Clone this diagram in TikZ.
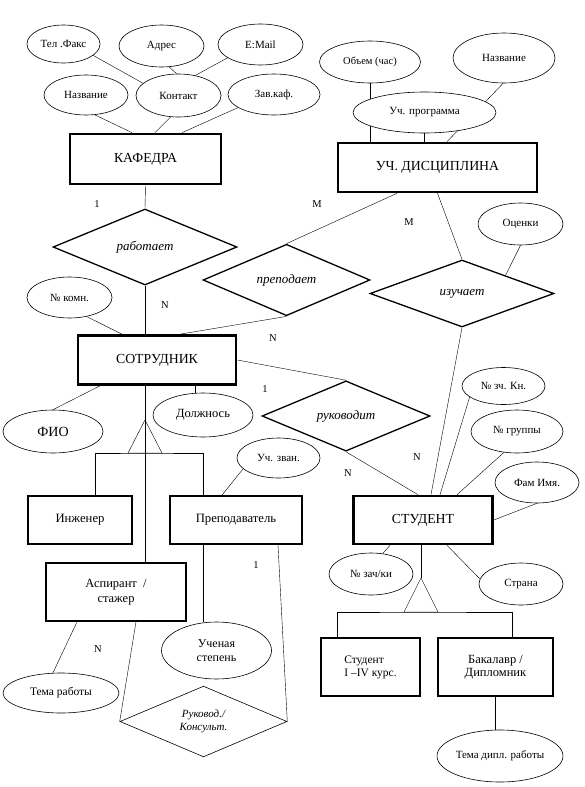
\documentclass[tikz,border=0pt]{standalone}
\usepackage{fontspec}
\setmainfont{Liberation Serif}
\usetikzlibrary{calc,shapes.geometric,backgrounds}

\begin{document}
\begin{tikzpicture}[x=1pt,y=-1pt,
  sz/.style 2 args={minimum width=#1,minimum height=#2},
  ent/.style={draw,line width=2.6pt,inner sep=0pt,fill=white,font=\fontsize{13.8}{15}\selectfont},
  sub/.style={draw,line width=1.8pt,inner sep=0pt,fill=white,align=center,font=\fontsize{12.7}{14}\selectfont},
  attr/.style={ellipse,draw,line width=0.6pt,inner sep=0pt,fill=white,align=center,font=\fontsize{11}{13}\selectfont},
  rel/.style={diamond,draw,line width=1.3pt,inner sep=0pt,fill=white,align=center,font=\fontsize{13}{15}\selectfont\itshape},
  link/.style={line width=0.6pt}]
\useasboundingbox (0,0) rectangle (584,787);
% entities
\node[ent,sz={151}{50}] (kaf) at (145.5,159) {КАФЕДРА};
\node[ent,sz={199}{49}] (disc) at (437.5,167.5) {УЧ. ДИСЦИПЛИНА};
\node[ent,sz={158}{49}] (sotr) at (157,360) {СОТРУДНИК};
\node[ent,sz={139}{48}] (stud) at (423,520) {СТУДЕНТ};
\node[sub,sz={104}{48}] (ing) at (80,520) {Инженер};
\node[sub,sz={132}{48}] (pr) at (236,520) {Преподаватель};
\node[sub,sz={140}{58},font=\fontsize{12.5}{15}\selectfont] (asp) at (116,592) {Аспирант~~/\\стажер};
\node[sub,sz={99}{58},align=left,font=\fontsize{11.5}{13}\selectfont] (st1) at (370.5,667) {Студент\\I –IV курс.};
\node[sub,sz={115}{58},font=\fontsize{12.5}{13.5}\selectfont] (bak) at (495.5,667) {Бакалавр /\\Дипломник};
% attributes
\node[attr,sz={73}{38}] (tel) at (63.5,44) {Тел .Факс};
\node[attr,sz={85}{42}] (adr) at (161.5,46) {Адрес};
\node[attr,sz={85}{41}] (mail) at (260.5,44.5) {E:Mail};
\node[attr,sz={84}{40}] (nazv) at (86,95) {Название};
\node[attr,sz={85}{43}] (kont) at (178.5,95.5) {Контакт};
\node[attr,sz={92}{41}] (zav) at (274,94.5) {Зав.каф.};
\node[attr,sz={101}{42},font=\fontsize{10.5}{12}\selectfont] (obj) at (370,62) {Объем (час)};
\node[attr,sz={102}{50}] (nazv2) at (504,58) {Название};
\node[attr,sz={143}{41}] (prog) at (424.5,112.5) {Уч. программа};
\node[attr,sz={85}{42}] (ocen) at (520.5,224) {Оценки};
\node[attr,sz={85}{41}] (komn) at (69.5,297.5) {№ комн.};
\node[attr,sz={100}{44},font=\fontsize{12.5}{14}\selectfont] (dol) at (203,415) {Должнось};
\node[attr,sz={100}{43},font=\fontsize{14}{16}\selectfont] (fio) at (53,431.5) {ФИО};
\node[attr,sz={83}{40}] (zv) at (278.5,458) {Уч. зван.};
\node[attr,sz={83}{37}] (zk) at (503.5,386) {№ зч. Кн.};
\node[attr,sz={92}{43}] (grp) at (517,431.5) {№ группы};
\node[attr,sz={84}{41}] (fam) at (537,482.5) {Фам Имя.};
\node[attr,sz={84}{42}] (zki) at (371,574) {№ зач/ки};
\node[attr,sz={84}{42}] (str) at (521,584) {Страна};
\node[attr,sz={110}{57},font=\fontsize{12}{14}\selectfont] (us) at (216.5,650.5) {Ученая\\степень};
\node[attr,sz={116}{40},font=\fontsize{11.5}{13.5}\selectfont] (tr) at (61,693) {Тема работы};
\node[attr,sz={126}{52}] (td) at (500,756) {Тема дипл. работы};
% relationships
\node[rel,sz={184}{76}] (rab) at (145,247) {работает};
\node[rel,sz={167}{58}] (prep) at (286.5,280) {преподает};
\node[rel,sz={184}{67}] (izu) at (462,293.5) {изучает};
\node[rel,sz={168}{58}] (ruk) at (346,416) {руководит};
\node[rel,sz={167}{67},line width=0.6pt,font=\fontsize{11}{13}\selectfont\itshape] (rk) at (203.5,721.5) {Руковод./\\Консульт.};
% cardinalities
\foreach \n/\x/\y/\t in {rab1/97/204/1,rabN/165/305/N,prepM/317/204/M,izuM/409/222/M,prepN/273/338/N,
  ruk1/265/389/1,rukN/348/473/N,izuN/417/457/N,rk1/256/565/1,rkN/98/649/N}
  \node[font=\fontsize{10.5}{12}\selectfont] (\n) at (\x,\y) {\t};
% isa
\coordinate (isa1) at (145,420);
\coordinate (isa2) at (421,578);
\begin{scope}[on background layer,link]
\foreach \a/\b in {tel.-21/kont.161,adr.-70/kont.95,mail.-158/kont.50,kaf.south/rab.north,
  disc.south/izu.north,sotr.east/ruk.north,fam.south/stud.east}
  \draw (\a) -- (\b);
\draw (nazv.-66) -- ([xshift=-13.5pt]kaf.north);
\draw (kont.-110) -- ([xshift=9.5pt]kaf.north);
\draw (zav.-160) -- ([xshift=36.5pt]kaf.north);
\draw (obj.south) -- (obj.south |- disc.north);
\draw (prog.south) -- (prog.south |- disc.north);
\draw (nazv2.-92) -- ([xshift=9.5pt]disc.north);
\draw (rab.south) -- (rab.south |- sotr.north);
\draw (komn.-48) -- ([xshift=-35pt]sotr.north);
\draw (prep.north) -- ([xshift=-40.5pt]disc.south);
\draw (prep.south) -- ([xshift=23pt]sotr.north);
\draw (ocen.south) -- ($(izu.north)!0.47!(izu.east)$);
\draw (izu.south) -- ([xshift=8pt]stud.north);
\draw (ruk.south) -- ([xshift=-5pt]stud.north);
\draw (zk.-162) -- ([xshift=17pt]stud.north);
\draw (grp.-122) -- ([xshift=34pt]stud.north);
\draw ([xshift=-8pt]dol.north) -- ([xshift=-8pt]dol.north |- sotr.south);
\draw ([xshift=-57pt]sotr.south) -- (fio.north);
\draw (isa1) -- ++(-17,33) -- ++(34,0) -- cycle;
\draw (sotr.south -| isa1) -- (asp.north -| isa1);
\draw ([xshift=15pt]ing.north) |- ($(isa1)+(0,33)$) -| ([xshift=-33pt]pr.north);
\draw (zv.-163) -- ([xshift=-14pt]pr.north);
\draw ([xshift=-33pt]pr.south) -- ([xshift=-33pt]pr.south |- us.north);
\draw ([xshift=20pt]asp.south) -- (rk.west);
\draw ([xshift=42pt]pr.south) -- (rk.east);
\draw ([xshift=-39pt]asp.south) -- ([xshift=-8pt]tr.north);
\draw (isa2) -- ++(-17,34) -- ++(34,0) -- cycle;
\draw (stud.south -| isa2) -- (isa2);
\draw ([xshift=-33.5pt]st1.north) |- ($(isa2)+(0,34)$) -| ([xshift=16.5pt]bak.north);
\draw ([xshift=-33pt]stud.south) -- (zki.60);
\draw ([xshift=24pt]stud.south) -- (str.173);
\draw (bak.south) -- (bak.south |- td.north);
\end{scope}
\end{tikzpicture}
\end{document}
